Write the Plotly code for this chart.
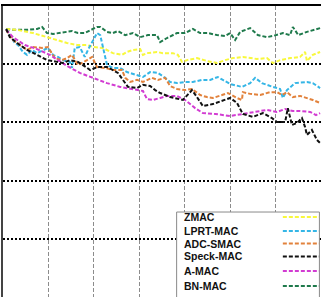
import plotly.graph_objects as go

names = ["ZMAC", "LPRT-MAC", "ADC-SMAC", "Speck-MAC", "A-MAC", "BN-MAC"]
colors = ["#f8f83c", "#35b6e6", "#e2823c", "#111111", "#d23cd2", "#1f7a4c"]

zmac_x = [0.7, 3.1, 6.6, 10.3, 14.1, 16.3, 18.5, 19.8, 22.0, 24.2, 26.2, 27.3, 28.6, 30.2, 30.8, 31.7, 33.9, 35.2, 37.4, 38.5, 39.4, 40.5, 42.7, 44.9, 47.1, 48.9, 50.6, 52.8, 55.9, 58.1, 59.4, 61.0, 63.2, 65.4, 66.5, 66.9, 68.2, 69.8]
zmac_y = [92.1, 91.8, 90.7, 89.0, 87.3, 86.6, 86.6, 85.9, 85.6, 83.8, 83.2, 84.2, 84.9, 85.2, 83.2, 83.8, 84.2, 83.8, 83.8, 83.2, 80.8, 81.4, 82.1, 81.1, 80.4, 81.4, 82.1, 82.5, 81.8, 82.1, 80.4, 81.4, 82.1, 82.5, 84.2, 81.1, 83.2, 84.2]

lprt_x = [0.7, 1.5, 2.6, 3.3, 4.4, 5.3, 6.4, 7.5, 8.8, 9.9, 11.0, 12.1, 13.2, 14.7, 15.2, 15.8, 16.9, 18.0, 18.7, 19.8, 20.7, 21.4, 22.0, 22.9, 24.2, 25.8, 27.3, 29.7, 30.8, 32.4, 34.1, 35.7, 36.8, 38.3, 40.1, 41.8, 43.8, 45.6, 47.3, 48.4, 50.0, 52.6, 54.4, 55.5, 57.0, 59.4, 61.0, 61.6, 62.5, 64.3, 66.9, 68.2, 69.8]
lprt_y = [92.1, 90.0, 87.3, 86.6, 84.2, 83.2, 84.9, 83.8, 84.9, 85.6, 83.2, 82.5, 81.4, 80.8, 78.7, 85.6, 85.9, 82.5, 84.9, 88.3, 90.7, 90.0, 85.9, 79.7, 78.7, 78.7, 77.3, 76.3, 75.6, 77.3, 77.0, 75.3, 73.9, 73.5, 73.9, 73.9, 74.6, 74.6, 75.6, 74.6, 73.2, 72.2, 73.5, 75.3, 73.5, 72.2, 71.5, 68.4, 71.1, 73.5, 73.9, 73.5, 71.8]

adc_x = [0.7, 2.2, 3.7, 5.3, 6.6, 8.6, 9.9, 11.4, 13.0, 14.1, 15.2, 16.5, 18.5, 19.6, 20.7, 22.5, 24.2, 26.2, 26.9, 28.0, 29.5, 30.8, 32.8, 34.1, 35.7, 36.8, 38.3, 40.1, 41.6, 43.4, 44.9, 46.2, 48.2, 49.5, 51.5, 52.6, 52.8, 54.4, 56.6, 58.8, 60.3, 61.4, 62.5, 63.8, 65.4, 66.9, 68.2, 69.8]
adc_y = [91.8, 88.3, 86.6, 84.9, 85.9, 85.6, 85.9, 82.1, 81.4, 82.1, 83.2, 79.7, 81.4, 82.5, 79.0, 78.7, 78.0, 78.0, 75.3, 73.9, 74.6, 73.9, 75.3, 74.6, 75.3, 72.5, 71.5, 71.1, 71.5, 69.4, 68.7, 68.4, 69.4, 70.1, 68.4, 67.7, 70.4, 69.8, 69.4, 70.4, 70.4, 69.4, 70.4, 68.7, 69.1, 68.4, 67.7, 66.7]

speck_x = [0.7, 1.5, 3.1, 5.3, 7.5, 9.7, 11.9, 13.2, 14.7, 16.5, 17.6, 19.2, 20.7, 22.9, 24.2, 25.3, 26.4, 27.5, 29.5, 30.8, 32.4, 33.5, 34.6, 36.8, 39.6, 41.6, 42.7, 44.0, 46.2, 48.4, 50.0, 51.5, 52.8, 55.0, 57.2, 59.2, 60.3, 62.1, 62.7, 63.6, 64.7, 65.8, 66.5, 66.9, 68.0, 69.1, 69.8]
speck_y = [92.1, 89.3, 87.3, 84.9, 83.2, 81.4, 80.8, 80.4, 81.4, 80.8, 79.7, 78.0, 79.0, 79.0, 78.0, 77.0, 74.6, 72.2, 71.8, 72.9, 72.5, 71.1, 70.1, 68.7, 67.7, 71.1, 68.7, 65.6, 66.3, 67.4, 68.4, 66.7, 62.9, 61.9, 63.2, 61.5, 60.1, 60.1, 64.9, 59.1, 59.8, 61.5, 58.4, 55.7, 57.4, 54.0, 52.9]

amac_x = [0.7, 2.2, 4.8, 7.5, 10.3, 14.1, 16.9, 19.8, 22.9, 25.8, 28.6, 30.8, 31.7, 33.0, 34.6, 36.1, 38.3, 40.1, 42.3, 44.0, 46.7, 50.0, 52.8, 55.9, 58.1, 60.3, 62.1, 63.8, 65.4, 67.6, 68.9, 69.8]
amac_y = [91.8, 89.3, 86.6, 85.2, 83.2, 79.4, 77.0, 75.3, 73.5, 72.2, 71.5, 70.8, 68.0, 67.7, 68.4, 69.1, 69.1, 67.7, 64.9, 63.2, 62.9, 62.2, 62.9, 63.6, 64.3, 63.6, 64.6, 63.9, 63.9, 63.6, 62.5, 63.2]

bn_x = [0.7, 2.2, 5.3, 7.5, 8.6, 9.7, 11.0, 12.5, 14.1, 15.2, 16.5, 18.0, 20.7, 21.4, 22.9, 24.2, 25.3, 26.9, 28.6, 30.2, 31.9, 33.9, 34.6, 36.1, 38.3, 40.1, 41.8, 43.4, 45.1, 47.1, 48.9, 50.0, 51.1, 52.2, 54.4, 56.1, 58.1, 59.4, 61.6, 63.2, 63.8, 65.0, 66.9, 68.2, 69.8]
bn_y = [92.1, 91.8, 91.8, 92.1, 92.8, 90.7, 90.4, 90.7, 91.1, 91.4, 90.7, 90.7, 92.8, 92.8, 91.1, 90.7, 91.4, 90.0, 90.7, 89.3, 90.0, 90.0, 87.6, 89.0, 90.7, 90.7, 92.1, 90.7, 90.7, 90.0, 89.7, 90.7, 88.3, 91.1, 92.4, 90.0, 89.3, 89.7, 90.7, 90.0, 92.8, 90.0, 91.1, 91.8, 92.4]

series = [(zmac_x, zmac_y), (lprt_x, lprt_y), (adc_x, adc_y),
          (speck_x, speck_y), (amac_x, amac_y), (bn_x, bn_y)]

fig = go.Figure()
# draw order: back to front
order = [5, 0, 1, 2, 4, 3]
for i in order:
    xs, ys = series[i]
    fig.add_trace(go.Scatter(x=xs, y=ys, mode="lines", name=names[i],
                             line=dict(color=colors[i], width=2, dash="4px,2px"),
                             showlegend=False))

# manual legend (text left, line sample right)
legend_rows = [0.2750, 0.2268, 0.1838, 0.1392, 0.0893, 0.0378]
shapes = [dict(type="rect", xref="paper", yref="paper", x0=0.546, x1=0.995,
               y0=-0.05, y1=0.292, line=dict(color="#8a8a8a", width=1),
               fillcolor="white", layer="above")]
annotations = []
for name, col, yy in zip(names, colors, legend_rows):
    annotations.append(dict(xref="paper", yref="paper", x=0.563, y=yy,
                            text="<b>" + name + "</b>", showarrow=False,
                            xanchor="left", yanchor="middle",
                            font=dict(family="Liberation Sans, Arial", size=10.5, color="#111")))
    shapes.append(dict(type="line", xref="paper", yref="paper", x0=0.88, x1=0.994,
                       y0=yy, y1=yy, line=dict(color=col, width=2, dash="4px,2px"),
                       layer="above"))

fig.update_layout(
    width=323, height=297,
    margin=dict(l=3, r=2, t=6, b=0),
    paper_bgcolor="white", plot_bgcolor="white",
    shapes=shapes, annotations=annotations,
    showlegend=False,
    xaxis=dict(range=[0, 70], dtick=10, side="top", showline=True,
               linecolor="black", linewidth=1.5, showticklabels=False, ticks="",
               showgrid=True, gridcolor="#8c8c8c", griddash="4px,2px", gridwidth=1.2,
               zeroline=False),
    yaxis=dict(range=[0, 100], dtick=20, showline=True, linecolor="#444",
               linewidth=1.5, showticklabels=False, ticks="",
               showgrid=True, gridcolor="black", griddash="2px,2px", gridwidth=1.5,
               zeroline=False),
)

fig.write_html("out.html")
